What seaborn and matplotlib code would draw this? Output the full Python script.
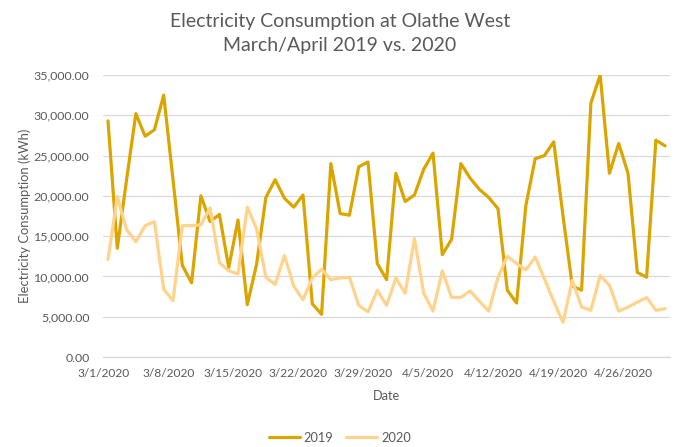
import pandas as pd
import matplotlib.pyplot as plt
import seaborn as sns

# daily kWh, 3/1 .. 4/30
usage_2019 = [29300, 13500, 22000, 30200, 27400, 28200, 32500, 22000, 11400, 9200,
              20000, 16800, 17700, 11100, 17000, 6500, 11500, 19800, 22000, 19700,
              18600, 20100, 6600, 5300, 24000, 17800, 17600, 23600, 24200, 11600,
              9600, 22800, 19300, 20100, 23300, 25300, 12700, 14600, 24000, 22200,
              20800, 19800, 18400, 8300, 6700, 18800, 24600, 25000, 26700, 17500,
              8800, 8300, 31500, 35000, 22800, 26500, 22800, 10500, 9900, 26900,
              26200]
usage_2020 = [12100, 19900, 15800, 14300, 16300, 16800, 8400, 7000, 16300, 16300,
              16400, 18500, 11700, 10700, 10300, 18600, 15900, 9900, 9000, 12600,
              8800, 7100, 9800, 10900, 9600, 9800, 9900, 6400, 5600, 8300,
              6400, 9800, 7900, 14700, 7900, 5700, 10700, 7400, 7400, 8200,
              6900, 5700, 9900, 12500, 11600, 10800, 12400, 9700, 6900, 4300,
              9500, 6200, 5800, 10100, 8900, 5700, 6200, 6800, 7400, 5800,
              6000]
years = ["2019", "2020"]
colors = {"2019": "#DBA500", "2020": "#FFD38C"}

dates = pd.date_range("2020-03-01", periods=len(usage_2019), freq="D")
# Excel places points between tick marks -> middle of each day
mid = dates + pd.Timedelta(hours=12)

df = pd.concat([
    pd.DataFrame({"Date": mid, "kWh": usage_2019, "Year": "2019"}),
    pd.DataFrame({"Date": mid, "kWh": usage_2020, "Year": "2020"}),
])

sns.set_theme(style="white")
plt.rcParams['font.family'] = ['Lato', 'DejaVu Sans']
grey = "#595959"

fig = plt.figure(figsize=(6.8, 4.47), dpi=100)
ax = fig.add_axes([0.152, 0.2013, 0.833, 0.631])

sns.lineplot(data=df, x="Date", y="kWh", hue="Year", hue_order=years,
             palette=colors, linewidth=2.3, ax=ax, legend=False)

ax.set_xlim(dates[0], dates[-1] + pd.Timedelta(days=1))
ax.set_ylim(0, 35000)
ax.set_yticks(range(0, 35001, 5000))
ax.set_yticklabels([f"{v:,.2f}" for v in range(0, 35001, 5000)])
tick_dates = dates[::7]
ax.set_xticks(tick_dates)
ax.set_xticklabels([f"{d.month}/{d.day}/{d.year}" for d in tick_dates])

ax.grid(axis="y", color="#D9D9D9", linewidth=0.9)
ax.set_axisbelow(True)
for s in ["top", "right", "left"]:
    ax.spines[s].set_visible(False)
ax.spines["bottom"].set_color("#D9D9D9")
ax.spines["bottom"].set_linewidth(0.9)
ax.tick_params(axis="x", length=4, color="#D9D9D9", labelsize=8.6, labelcolor=grey, pad=4)
ax.tick_params(axis="y", length=0, labelsize=8.9, labelcolor=grey, pad=10)

ax.set_xlabel("Date", fontsize=9.2, color=grey, labelpad=8)
ax.set_ylabel("Electricity Consumption (kWh)", fontsize=9.4, color=grey, labelpad=2)

fig.text(0.5, 0.953, "Electricity Consumption at Olathe West", ha="center", va="center",
         fontsize=14, color=grey)
fig.text(0.5, 0.898, "March/April 2019 vs. 2020", ha="center", va="center",
         fontsize=14, color=grey)

handles = [plt.Line2D([], [], color=colors[y], linewidth=2.3) for y in years]
fig.legend(handles, years, loc="lower center", bbox_to_anchor=(0.5, -0.018), ncol=2,
           frameon=False, fontsize=9.2, labelcolor=grey, handlelength=2.4,
           columnspacing=1.0, handletextpad=0.3)

fig.savefig("out.png", dpi=100)
